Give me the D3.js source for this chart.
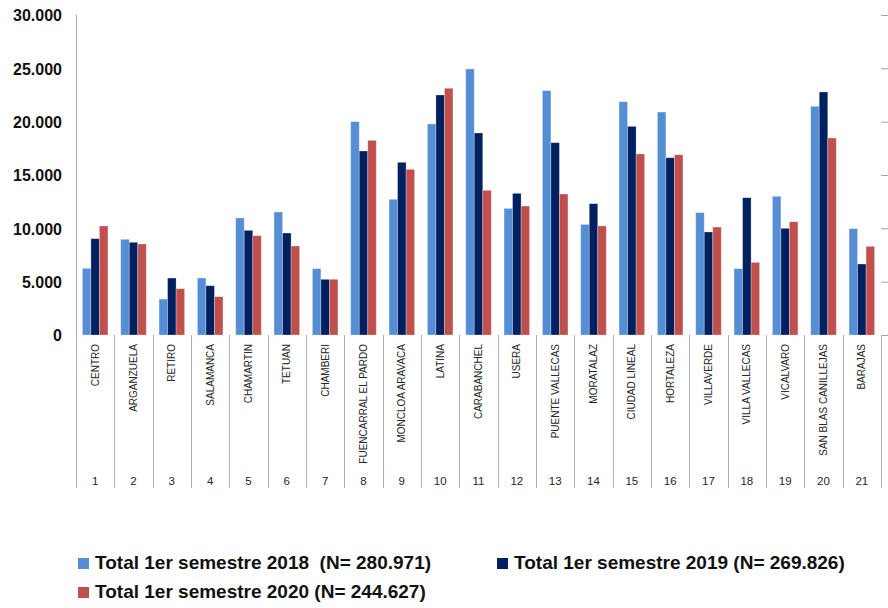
<!DOCTYPE html>
<html>
<head>
<meta charset="utf-8">
<script src="https://cdn.jsdelivr.net/npm/d3@7"></script>
<style>
  body { margin: 0; background: #fff; }
  svg { display: block; font-family: "Liberation Sans", Arial, sans-serif; }
  .grid line { stroke: #a6a6a6; stroke-width: 1; }
  .catLabel { font-size: 10px; fill: #262626; }
  .catNum { font-size: 11.5px; fill: #262626; }
  .yLabel { font-size: 16px; font-weight: bold; fill: #111; }
  .legendText { font-size: 19px; font-weight: bold; fill: #111; white-space: pre; }
</style>
</head>
<body>
<div id="chart"></div>
<script>
var svgWidth = 888;
var svgHeight = 608;

var margin = { top: 15, right: 7, bottom: 273, left: 76 };
var width = svgWidth - margin.left - margin.right;
var height = svgHeight - margin.top - margin.bottom;

// Data
var districts = ["CENTRO", "ARGANZUELA", "RETIRO", "SALAMANCA", "CHAMARTIN", "TETUAN", "CHAMBERI",
  "FUENCARRAL EL PARDO", "MONCLOA ARAVACA", "LATINA", "CARABANCHEL", "USERA", "PUENTE VALLECAS",
  "MORATALAZ", "CIUDAD LINEAL", "HORTALEZA", "VILLAVERDE", "VILLA VALLECAS", "VICALVARO",
  "SAN BLAS CANILLEJAS", "BARAJAS"];
var districtNums = ["1", "2", "3", "4", "5", "6", "7", "8", "9", "10", "11", "12", "13", "14", "15",
  "16", "17", "18", "19", "20", "21"];
var values2018 = [6250, 8970, 3370, 5340, 10970, 11530, 6220, 20000, 12720, 19780, 24940, 11870,
  22910, 10370, 21870, 20900, 11470, 6220, 13000, 21440, 9970];
var values2019 = [9030, 8690, 5340, 4620, 9810, 9560, 5220, 17250, 16190, 22500, 18940, 13280,
  18030, 12310, 19560, 16620, 9660, 12870, 10000, 22780, 6660];
var values2020 = [10220, 8530, 4340, 3590, 9310, 8340, 5220, 18250, 15530, 23130, 13560, 12090,
  13220, 10220, 16970, 16900, 10120, 6810, 10620, 18470, 8310];
var seriesNames = ["Total 1er semestre 2018  (N= 280.971)", "Total 1er semestre 2019 (N= 269.826)",
  "Total 1er semestre 2020 (N= 244.627)"];
var seriesColors = ["#558ed5", "#002060", "#c0504d"];
var yTicks = [0, 5000, 10000, 15000, 20000, 25000, 30000];

var esLocale = d3.formatLocale({ decimal: ",", thousands: ".", grouping: [3], currency: ["", "€"] });
var fmt = esLocale.format(",");

var svg = d3.select("#chart")
  .append("svg")
  .attr("width", svgWidth)
  .attr("height", svgHeight);

var chartGroup = svg.append("g")
  .attr("transform", `translate(${margin.left}, ${margin.top})`);

// scales
var xScale = d3.scaleBand()
  .domain(d3.range(districts.length))
  .range([0, width])
  .padding(0);

var bw = xScale.bandwidth();
var xInner = d3.scaleBand()
  .domain([0, 1, 2])
  .range([bw / 6, bw * 5 / 6]);

var yScale = d3.scaleLinear()
  .domain([0, 30000])
  .range([height, 0]);

// gridlines + y labels
var leftAxis = d3.axisLeft(yScale)
  .tickValues(yTicks)
  .tickSize(-width - 6)
  .tickFormat(fmt)
  .tickPadding(8);

var yAxisG = chartGroup.append("g")
  .attr("class", "grid")
  .attr("transform", "translate(" + (width) + ",0)")
  .call(leftAxis);
yAxisG.select(".domain").remove();
yAxisG.selectAll("text")
  .attr("class", "yLabel")
  .attr("x", -width - 14)
  .attr("dy", "0.36em");

// y axis line
chartGroup.append("line")
  .attr("x1", 0.5).attr("x2", 0.5)
  .attr("y1", 0).attr("y2", height)
  .attr("stroke", "#a6a6a6");

// category separators below the axis
var sepG = chartGroup.append("g");
sepG.selectAll("line")
  .data(d3.range(districts.length + 1))
  .enter()
  .append("line")
  .attr("x1", d => Math.round(d < districts.length ? xScale(d) : width) + 0.5)
  .attr("x2", d => Math.round(d < districts.length ? xScale(d) : width) + 0.5)
  .attr("y1", height)
  .attr("y2", height + 153)
  .attr("stroke", "#b0b0b0");

// bars
var series = [values2018, values2019, values2020];
var catGroups = chartGroup.selectAll(".cat")
  .data(districts.map((d, i) => i))
  .enter()
  .append("g")
  .attr("class", "cat")
  .attr("transform", d => `translate(${xScale(d)},0)`);

catGroups.selectAll("rect")
  .data(i => series.map((s, k) => ({ k: k, v: s[i] })))
  .enter()
  .append("rect")
  .attr("x", d => xInner(d.k))
  .attr("width", xInner.bandwidth())
  .attr("y", d => yScale(d.v))
  .attr("height", d => height - yScale(d.v))
  .attr("fill", d => seriesColors[d.k])
  .attr("stroke", "rgba(255,255,255,0.35)")
  .attr("stroke-width", 0.8);

// category labels (rotated)
catGroups.append("text")
  .attr("class", "catLabel")
  .attr("transform", `translate(${bw / 2 + 3.5}, ${height + 9}) rotate(-90)`)
  .attr("text-anchor", "end")
  .text(i => districts[i]);

catGroups.append("text")
  .attr("class", "catNum")
  .attr("x", bw / 2)
  .attr("y", height + 150)
  .attr("text-anchor", "middle")
  .text(i => districtNums[i]);

// legend
var legendPos = [[78, 569], [497, 569], [78, 598]];
var legend = svg.selectAll(".legend")
  .data(seriesNames)
  .enter()
  .append("g")
  .attr("class", "legend")
  .attr("transform", (d, i) => `translate(${legendPos[i][0]}, ${legendPos[i][1]})`);

legend.append("rect")
  .attr("x", 0)
  .attr("y", -11)
  .attr("width", 11)
  .attr("height", 11)
  .attr("fill", (d, i) => seriesColors[i]);

legend.append("text")
  .attr("class", "legendText")
  .attr("x", 17)
  .attr("y", 0)
  .attr("xml:space", "preserve")
  .text(d => d);
</script>
</body>
</html>
